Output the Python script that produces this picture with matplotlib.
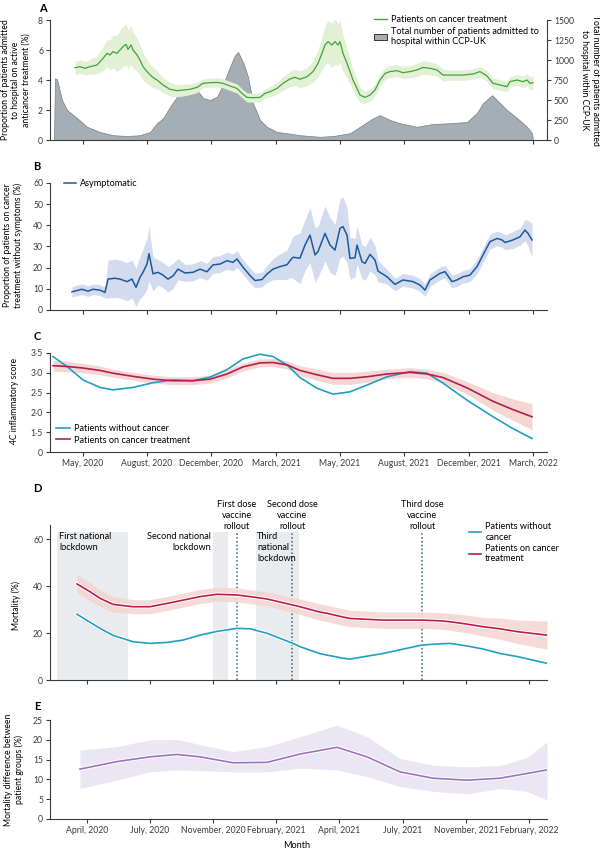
import numpy as np
import matplotlib
matplotlib.use("Agg")
import matplotlib.pyplot as plt
import matplotlib.patheffects as pe
from matplotlib.lines import Line2D
from matplotlib.patches import Patch

plt.rcParams['font.family'] = ['Lato', 'DejaVu Sans']
FS = 6.2

# ---------------- data ----------------
# timeline position (arbitrary units across the shared time axis)
ticks_abc = [33, 97, 161, 226, 290, 354, 419, 483]
ticks_de = [37, 100, 163, 226, 289, 353, 416, 479]
labels_c = ["May, 2020", "August, 2020", "December, 2020", "March, 2021",
            "May, 2021", "August, 2021", "December, 2021", "March, 2022"]
labels_e = ["April, 2020", "July, 2020", "November, 2020", "February, 2021",
            "April, 2021", "July, 2021", "November, 2021", "February, 2022"]

# Panel A: proportion on cancer treatment (%) with CI half-width
a_t = [25, 30, 35, 40, 47, 50, 53, 57, 60, 63, 67, 70, 73, 76, 78, 81, 83, 87, 90, 93, 97, 102, 107, 113,
       120, 127, 133, 140, 147, 153, 160, 167, 173, 180, 187, 192, 197, 203, 210, 215, 220, 227, 233, 240,
       245, 250, 257, 263, 268, 272, 275, 278, 282, 285, 288, 290, 293, 297, 300, 303, 307, 310, 315, 320,
       325, 330, 335, 340, 347, 353, 360, 367, 373, 380, 387, 393, 403, 413, 423, 430, 437, 443, 450, 457,
       460, 467, 473, 477, 480, 483]
a_pct = [4.82, 4.89, 4.78, 4.89, 5.0, 5.22, 5.44, 5.78, 5.67, 5.89, 5.78, 6.0, 6.22, 6.38, 6.04, 6.33, 6.0,
         5.67, 5.33, 4.89, 4.56, 4.22, 4.0, 3.67, 3.38, 3.29, 3.33, 3.38, 3.51, 3.78, 3.82, 3.84, 3.78, 3.6,
         3.44, 3.11, 2.84, 2.82, 2.84, 3.11, 3.22, 3.44, 3.78, 4.07, 4.18, 4.05, 4.22, 4.56, 5.11, 5.78, 6.33,
         6.56, 6.33, 6.56, 6.33, 6.56, 5.78, 5.11, 4.56, 4.0, 3.44, 3.0, 2.84, 3.0, 3.33, 4.0, 4.44, 4.56,
         4.62, 4.49, 4.56, 4.67, 4.84, 4.78, 4.67, 4.33, 4.33, 4.33, 4.4, 4.56, 4.27, 3.78, 3.67, 3.56, 3.89,
         4.0, 3.89, 4.0, 3.78, 3.82]
a_hw = [.45, .45, .45, .5, .6, .7, .8, .9, 1.0, 1.1, 1.2, 1.3, 1.35, 1.4, 1.3, 1.3, 1.2, 1.1, 1.0, .9, .8,
        .7, .6, .5, .45, .4, .4, .35, .35, .3, .3, .3, .3, .3, .3, .3, .3, .3, .3, .3, .35, .4, .45, .5, .55,
        .55, .6, .7, .9, 1.1, 1.3, 1.4, 1.5, 1.5, 1.4, 1.4, 1.2, 1.0, .8, .7, .6, .5, .4, .4, .4, .4, .4, .4,
        .4, .4, .4, .45, .45, .45, .4, .4, .35, .35, .35, .35, .35, .35, .35, .35, .35, .35, .4, .4, .45, .45]

# Panel A: total admissions within CCP-UK
adm_t = [4, 5, 7, 12, 17, 27, 37, 50, 63, 77, 90, 100, 107, 113, 120, 127, 133, 140, 147, 153, 160, 167,
         173, 180, 185, 188, 193, 198, 203, 210, 217, 227, 237, 250, 270, 283, 300, 313, 323, 330, 340, 350,
         367, 383, 400, 417, 427, 433, 442, 450, 457, 467, 477, 482, 483]
adm_n = [0, 770, 760, 500, 375, 275, 165, 100, 60, 50, 60, 100, 210, 270, 415, 540, 650, 675, 625, 525,
         500, 540, 690, 915, 1060, 1100, 975, 790, 460, 250, 165, 100, 85, 60, 40, 50, 85, 190, 270, 310,
         250, 210, 165, 200, 210, 225, 340, 460, 560, 460, 375, 275, 165, 85, 0]

# Panel B: asymptomatic proportion (%)
b_t = [22, 32, 38, 43, 50, 55, 58, 65, 70, 77, 82, 86, 90, 93, 97, 99, 103, 108, 113, 118, 123, 128, 135,
       143, 150, 157, 163, 170, 177, 183, 187, 193, 200, 205, 212, 217, 223, 230, 237, 240, 243, 250, 255,
       260, 265, 268, 275, 280, 285, 290, 293, 297, 300, 305, 307, 312, 315, 320, 325, 328, 337, 345, 353,
       363, 370, 375, 380, 390, 395, 402, 407, 413, 420, 427, 433, 440, 447, 452, 455, 463, 470, 475, 478, 482]
b_pct = [8.6, 9.8, 8.9, 9.8, 9.4, 8.3, 14.6, 15.0, 14.6, 13.4, 14.6, 10.7, 15.4, 17.8, 21.7, 26.6, 17.1,
         17.8, 16.5, 14.6, 16.1, 19.3, 17.5, 17.8, 19.3, 18.1, 21.3, 21.7, 23.3, 22.5, 24.1, 20.2, 16.3, 13.9,
         14.4, 17.0, 19.3, 20.5, 21.4, 23.3, 24.9, 24.5, 30.7, 35.4, 26.0, 27.6, 36.2, 30.7, 28.3, 38.6, 39.4,
         35.4, 24.4, 24.7, 30.7, 22.8, 22.0, 26.3, 23.6, 18.4, 15.7, 12.1, 14.2, 13.4, 11.8, 9.4, 14.2, 17.3,
         18.1, 13.4, 14.2, 15.7, 16.5, 20.5, 26.0, 32.3, 33.8, 33.1, 31.9, 33.1, 34.6, 37.8, 36.2, 33.1]
b_hw = [2.5, 2.5, 2.5, 2.5, 2.5, 2.5, 9, 9, 9, 9, 9, 9, 10, 11, 12, 13, 8, 6, 6, 6, 6, 5, 4, 4, 4, 4, 4,
        4, 4, 4, 4, 3.5, 3.5, 3.5, 3.5, 4, 5, 6, 7, 8, 10, 12, 12, 13, 13, 12, 13, 13, 12, 14, 14, 13, 10,
        9, 9, 8, 8, 8, 7, 5, 3.5, 3, 3, 3, 3, 3, 3, 3, 3, 3, 3, 3, 3, 3.5, 3.5, 3.5, 3.5, 3.5, 3.5, 4, 4,
        5, 6, 8]

# Panel C: 4C inflammatory score
c_t = [3, 17, 33, 50, 63, 83, 103, 123, 143, 160, 177, 193, 210, 223, 237, 250, 267, 283, 300, 317, 337,
       360, 377, 393, 417, 443, 463, 482]
c_nocancer = [3.41, 3.16, 2.82, 2.63, 2.57, 2.63, 2.75, 2.82, 2.80, 2.89, 3.08, 3.35, 3.47, 3.41, 3.20,
              2.88, 2.61, 2.46, 2.52, 2.69, 2.90, 3.03, 2.99, 2.74, 2.31, 1.89, 1.59, 1.34]
c_cancer = [3.18, 3.16, 3.12, 3.06, 2.99, 2.91, 2.84, 2.80, 2.80, 2.84, 2.97, 3.15, 3.25, 3.26, 3.20,
            3.06, 2.95, 2.86, 2.86, 2.90, 2.97, 3.01, 2.97, 2.88, 2.62, 2.28, 2.07, 1.89]
c_cancer_hw = [.14, .13, .12, .11, .1, .1, .1, .1, .1, .1, .1, .1, .1, .1, .1, .12, .14, .15, .15, .14,
               .12, .12, .12, .13, .16, .22, .27, .33]

# Panel D: mortality (%)
d_t = [27, 40, 50, 63, 83, 100, 117, 133, 150, 167, 187, 200, 217, 243, 250, 270, 277, 293, 300, 333,
       372, 390, 400, 417, 433, 450, 467, 497]
d_cancer = [40.9, 37.6, 34.8, 32.2, 31.2, 31.2, 32.6, 34.0, 35.5, 36.5, 36.2, 35.5, 34.5, 31.9, 31.2,
            28.9, 28.4, 26.8, 26.2, 25.5, 25.5, 25.2, 24.8, 23.8, 22.7, 21.8, 20.6, 19.1]
d_cancer_hw = [4, 3.8, 3.5, 3.3, 3, 3, 3, 3, 3, 3, 3, 3, 3, 3.2, 3.3, 3.5, 3.5, 3.5, 3.5, 3.5, 3.5,
               3.5, 3.6, 3.8, 4, 4.5, 5, 6]
d_nocancer = [28.0, 24.6, 22.0, 19.0, 16.3, 15.6, 16.0, 17.0, 19.1, 20.7, 22.0, 21.8, 19.9, 15.6, 14.2,
              11.2, 10.6, 9.3, 8.9, 11.3, 14.9, 15.4, 15.6, 14.5, 13.2, 11.3, 10.0, 7.1]
lockdowns = [(7, 78), (163, 178), (206, 249)]
vaccines = [187, 242, 372]

# Panel E: mortality difference (%)
e_t = [30, 67, 100, 127, 150, 183, 217, 250, 287, 317, 350, 383, 417, 450, 477, 497]
e_diff = [12.6, 14.5, 15.7, 16.3, 15.7, 14.2, 14.3, 16.4, 18.1, 15.7, 11.9, 10.3, 9.8, 10.3, 11.5, 12.4]
e_lo = [7.7, 9.8, 11.9, 12.4, 12.2, 11.9, 11.9, 12.8, 12.4, 10.7, 8.2, 7.0, 6.3, 7.7, 7.0, 4.8]
e_hi = [17.4, 18.3, 20.0, 20.1, 18.8, 17.0, 18.3, 20.8, 23.7, 20.8, 15.3, 13.6, 13.2, 13.5, 15.5, 19.5]

# ---------------- styling ----------------
GREEN, GREEN_F = '#3fa43a', '#e2f0d6'
GREY_F, GREY_E = '#a5adb5', '#76808a'
BLUE, BLUE_F = '#1b5a9c', '#d3dbee'
CYAN = '#1fa0c2'
RED, RED_F = '#b81d4e', '#f4d6d3'
PURPLE, PURPLE_F = '#9a72c0', '#ebe6f4'
SHADE = '#e9ebee'
DOT = '#2b6a78'
SPINE = '#3a3a3a'

W, H = 600, 849
fig = plt.figure(figsize=(6, 8.49), dpi=100)


def make_ax(top, bottom):
    ax = fig.add_axes([50 / W, 1 - bottom / H, 497 / W, (bottom - top) / H])
    for s in ['top', 'right']:
        ax.spines[s].set_visible(False)
    for s in ['left', 'bottom']:
        ax.spines[s].set_color(SPINE)
        ax.spines[s].set_linewidth(0.8)
    ax.tick_params(direction='out', length=3, width=0.8, colors=SPINE, labelsize=FS, pad=2)
    ax.set_xlim(0, 497)
    return ax


white = [pe.Stroke(linewidth=2.6, foreground='white'), pe.Normal()]

# ---- Panel A ----
axA = make_ax(20, 140)
axA2 = axA.twinx()
axA2.set_xlim(0, 497)
axA2.fill_between(adm_t, adm_n, 0, facecolor=GREY_F, edgecolor=GREY_E, linewidth=0.5)
axA2.set_ylim(0, 1500)
axA2.set_yticks(range(0, 1501, 250))
for s in ['top', 'left', 'bottom']:
    axA2.spines[s].set_visible(False)
axA2.spines['right'].set_color(SPINE)
axA2.spines['right'].set_linewidth(0.8)
axA2.tick_params(direction='out', length=3, width=0.8, colors=SPINE, labelsize=FS, pad=2)
axA.set_zorder(axA2.get_zorder() + 1)
axA.patch.set_visible(False)
a_pct_arr, a_hw_arr = np.array(a_pct), np.array(a_hw)
axA.fill_between(a_t, a_pct_arr - a_hw_arr, a_pct_arr + a_hw_arr, color=GREEN_F, linewidth=0)
axA.plot(a_t, a_pct, color=GREEN, lw=0.9)
axA.set_ylim(0, 8)
axA.set_yticks([0, 2, 4, 6, 8])
axA.set_xticks(ticks_abc)
axA.set_xticklabels([])
handlesA = [Line2D([], [], color=GREEN, lw=1.0),
            Patch(facecolor=GREY_F, edgecolor='#333333', linewidth=0.7)]
axA.legend(handlesA, ['Patients on cancer treatment',
                      'Total number of patients admitted to\nhospital within CCP-UK'],
           loc='upper left', bbox_to_anchor=(0.645, 1.07), frameon=False, fontsize=FS + 0.4,
           handlelength=1.4, handletextpad=0.4, labelspacing=0.3, borderaxespad=0)
fig.text(16 / W, 1 - 80 / H, 'Proportion of patients admitted\nto hospital on active\nanticancer treatment (%)',
         rotation=90, ha='center', va='center', fontsize=FS, linespacing=1.15)
fig.text(590 / W, 1 - 80 / H, 'Total number of patients admitted\nto hospital within CCP-UK',
         rotation=270, ha='center', va='center', fontsize=FS, linespacing=1.15)

# ---- Panel B ----
axB = make_ax(183, 310)
b_arr, bh = np.array(b_pct), np.array(b_hw)
axB.fill_between(b_t, b_arr - bh, b_arr + bh, color=BLUE_F, linewidth=0)
axB.plot(b_t, b_pct, color=BLUE, lw=1.1)
axB.set_ylim(0, 60)
axB.set_yticks(range(0, 61, 10))
axB.set_xticks(ticks_abc)
axB.set_xticklabels([])
axB.legend([Line2D([], [], color=BLUE, lw=1.1)], ['Asymptomatic'], loc='upper left',
           bbox_to_anchor=(0.02, 1.06), frameon=False, fontsize=FS + 0.4, handlelength=1.4,
           handletextpad=0.4, borderaxespad=0)
fig.text(13 / W, 1 - 245 / H, 'Proportion of patients on cancer\ntreatment without symptoms (%)',
         rotation=90, ha='center', va='center', fontsize=FS, linespacing=1.15)

# ---- Panel C ----
axC = make_ax(353, 452)
cc, ch = np.array(c_cancer), np.array(c_cancer_hw)
axC.fill_between(c_t, cc - ch, cc + ch, color=RED_F, linewidth=0)
axC.plot(c_t, c_nocancer, color=CYAN, lw=1.2, label='Patients without cancer')
axC.plot(c_t, c_cancer, color=RED, lw=1.2, label='Patients on cancer treatment')
axC.set_ylim(1.0, 3.5)
axC.set_yticks([1.0, 1.5, 2.0, 2.5, 3.0, 3.5])
axC.set_yticklabels(['0', '1·5', '2·0', '2·5', '3·0', '3·5'])
axC.set_xticks(ticks_abc)
axC.set_xticklabels(labels_c)
axC.legend(loc='lower left', bbox_to_anchor=(0.0, 0.02), frameon=False, fontsize=FS + 0.4,
           handlelength=1.6, handletextpad=0.4, labelspacing=0.25, borderaxespad=0.2)
fig.text(15 / W, 1 - 401 / H, '4C inflammatory score', rotation=90, ha='center', va='center', fontsize=FS)

# ---- Panel D ----
axD = make_ax(525, 680)
for a, b in lockdowns:
    axD.fill_between([a, b], 0, 63, color=SHADE, linewidth=0, zorder=0)
axD.vlines(vaccines, 0, 63, colors=DOT, linestyles=(0, (1, 1.5)), lw=1.1, zorder=1)
dc, dh = np.array(d_cancer), np.array(d_cancer_hw)
axD.fill_between(d_t, dc - dh, dc + dh, color=RED_F, linewidth=0, alpha=0.9, zorder=2)
axD.plot(d_t, d_nocancer, color=CYAN, lw=1.2, zorder=3, path_effects=white)
axD.plot(d_t, d_cancer, color=RED, lw=1.2, zorder=3, path_effects=white)
axD.set_ylim(0, 66)
axD.set_yticks([0, 20, 40, 60])
axD.set_xticks(ticks_de)
axD.set_xticklabels([])
lockdown_txt = ['First national\nlockdown', 'Second national\nlockdown', 'Third\nnational\nlockdown']
axD.text(lockdowns[0][0] + 2, 63, lockdown_txt[0], ha='left', va='top', fontsize=FS + 0.4, linespacing=1.3)
axD.text(lockdowns[1][0] - 2, 63, lockdown_txt[1], ha='right', va='top', fontsize=FS + 0.4, linespacing=1.3)
axD.text(lockdowns[2][0] + 1, 63, lockdown_txt[2], ha='left', va='top', fontsize=FS + 0.4, linespacing=1.3)
vacc_txt = ['First dose\nvaccine\nrollout', 'Second dose\nvaccine\nrollout', 'Third dose\nvaccine\nrollout']
for v, s in zip(vaccines, vacc_txt):
    axD.text(v, 63.5, s, ha='center', va='bottom', fontsize=FS + 0.4, linespacing=1.3)
axD.legend([Line2D([], [], color=CYAN, lw=1.2), Line2D([], [], color=RED, lw=1.2)],
           ['Patients without\ncancer', 'Patients on cancer\ntreatment'], loc='upper left',
           bbox_to_anchor=(0.835, 1.04), frameon=False, fontsize=FS + 0.4, handlelength=1.4,
           handletextpad=0.4, labelspacing=0.2, borderaxespad=0)
fig.text(16 / W, 1 - 605 / H, 'Mortality (%)', rotation=90, ha='center', va='center', fontsize=FS)

# ---- Panel E ----
axE = make_ax(720, 819)
axE.fill_between(e_t, e_lo, e_hi, color=PURPLE_F, linewidth=0)
axE.plot(e_t, e_diff, color=PURPLE, lw=1.2, path_effects=white)
axE.set_ylim(0, 25)
axE.set_yticks(range(0, 26, 5))
axE.set_xticks(ticks_de)
axE.set_xticklabels(labels_e)
fig.text(14 / W, 1 - 770 / H, 'Mortality difference between\npatient groups (%)',
         rotation=90, ha='center', va='center', fontsize=FS, linespacing=1.15)
fig.text(297 / W, 1 - 845 / H, 'Month', ha='center', va='center', fontsize=FS + 0.4)

# panel letters
for letter, (x, y) in zip('ABCDE', [(43, 8), (37, 167), (37, 337), (37, 488), (37, 706)]):
    fig.text(x / W, 1 - y / H, letter, ha='center', va='center', fontsize=8, fontweight='bold')

fig.savefig('out.png', dpi=100)
